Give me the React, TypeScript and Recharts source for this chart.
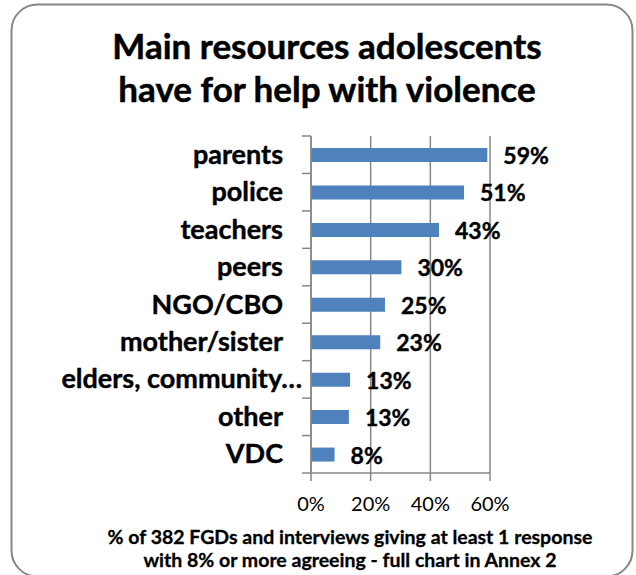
import { BarChart, Bar, XAxis, YAxis, CartesianGrid, LabelList } from "recharts";

const categories = ["parents", "police", "teachers", "peers", "NGO/CBO", "mother/sister", "elders, community…", "other", "VDC"];
const shares = [59.1, 51.3, 42.9, 30.3, 24.8, 23.2, 13.1, 12.7, 7.9];
const xTicks = [0, 20, 40, 60];
const titleLines = ["Main resources adolescents", "have for help with violence"];
const footerLines = [
  "% of 382 FGDs and interviews giving at least 1 response",
  "with 8% or more agreeing - full chart in Annex 2",
];

const data = categories.map((name, i) => ({ name, share: shares[i] }));

const W = 636;
const H = 575;
const TOP = 136;
const BOTTOM = 102;
const FONT = "Lato, 'Open Sans', sans-serif";
const GRAY = "#878787";
const band = (H - TOP - BOTTOM) / categories.length;

function CatTick(props: any) {
  const { x, y, payload, index } = props;
  const last = index === categories.length - 1;
  // truncated labels in the original run right up to the axis ticks
  const gap = String(payload.value).endsWith("…") ? 9 : 28;
  return (
    <g>
      <line x1={x - 9} x2={x} y1={y - band / 2} y2={y - band / 2} stroke={GRAY} strokeWidth={1.5} />
      {last && <line x1={x - 9} x2={x} y1={y + band / 2} y2={y + band / 2} stroke={GRAY} strokeWidth={1.5} />}
      <text x={x - gap} y={y + 9} textAnchor="end" fontFamily={FONT} fontWeight={700} fontSize={27} fill="#000" stroke="#000" strokeWidth={0.4}>
        {payload.value}
      </text>
    </g>
  );
}

function PctTick(props: any) {
  const { x, y, payload } = props;
  return (
    <text x={x} y={y + 30} textAnchor="middle" fontFamily={FONT} fontSize={20} fill="#000">
      {payload.value}%
    </text>
  );
}

function ValueLabel(props: any) {
  const { x, y, width, height, value } = props;
  return (
    <text x={x + width + 16} y={y + height / 2 + 9} fontFamily={FONT} fontWeight={700} fontSize={23} fill="#000" stroke="#000" strokeWidth={0.4}>
      {Math.round(value)}%
    </text>
  );
}

export default function App() {
  return (
    <div style={{ position: "absolute", left: 0, top: 0, width: W, height: H, background: "#fff" }}>
      <BarChart
        width={W}
        height={H}
        data={data}
        layout="vertical"
        margin={{ top: TOP, right: 146, bottom: BOTTOM - 40, left: 1 }}
        barCategoryGap={0}
      >
        <CartesianGrid horizontal={false} stroke={GRAY} strokeWidth={1.5} />
        <XAxis
          type="number"
          domain={[0, 60]}
          ticks={xTicks}
          height={40}
          stroke={GRAY}
          strokeWidth={1.5}
          tickSize={8}
          tickMargin={0}
          tick={<PctTick />}
          interval={0}
        />
        <YAxis
          type="category"
          dataKey="name"
          width={310}
          stroke={GRAY}
          strokeWidth={1.5}
          tickLine={false}
          tickSize={0}
          tickMargin={0}
          tick={<CatTick />}
          interval={0}
        />
        <Bar dataKey="share" fill="#4F81BD" barSize={14} isAnimationActive={false}>
          <LabelList dataKey="share" content={<ValueLabel />} />
        </Bar>
      </BarChart>
      <svg width={W} height={H} style={{ position: "absolute", left: 0, top: 0, pointerEvents: "none" }}>
        <rect x={11.5} y={4.5} width={621} height={572} rx={26} fill="none" stroke={GRAY} strokeWidth={2} />
        {titleLines.map((t, i) => (
          <text key={t} x={327} y={59 + i * 43} textAnchor="middle" fontFamily={FONT} fontWeight={700} fontSize={35} fill="#000" stroke="#000" strokeWidth={0.5}>
            {t}
          </text>
        ))}
        {footerLines.map((t, i) => (
          <text key={t} x={350} y={544 + i * 23} textAnchor="middle" fontFamily={FONT} fontWeight={700} fontSize={19.5} fill="#000" stroke="#000" strokeWidth={0.3}>
            {t}
          </text>
        ))}
      </svg>
    </div>
  );
}
